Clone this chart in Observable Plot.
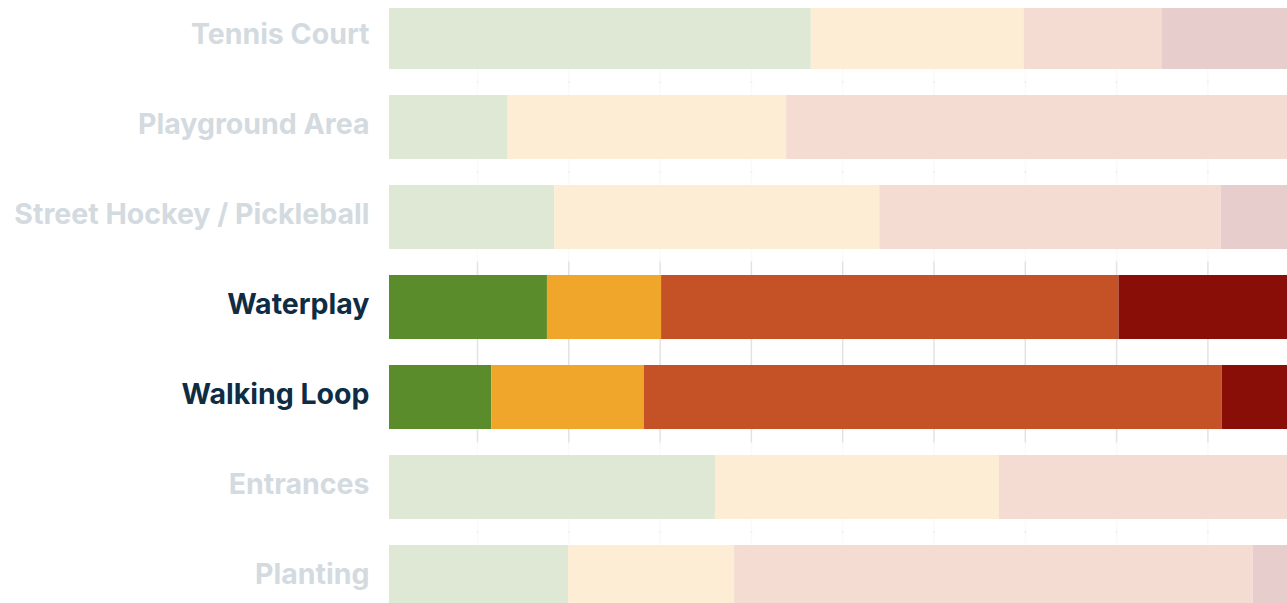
<!DOCTYPE html>
<html>
<head>
<meta charset="utf-8">
<script src="https://cdn.jsdelivr.net/npm/d3@7"></script>
<script src="https://cdn.jsdelivr.net/npm/@observablehq/plot@0.6"></script>
<style>
  html, body { margin: 0; padding: 0; background: white; overflow: hidden; }
  #chart svg { overflow: hidden; display: block; }
</style>
</head>
<body>
<div id="chart"></div>
<script>
const categories = ["Tennis Court", "Playground Area", "Street Hockey / Pickleball", "Waterplay", "Walking Loop", "Entrances", "Planting"];
const highlighted = ["Waterplay", "Walking Loop"];
const segments = ["Good", "Fair", "Poor", "Critical"];
const segmentColors = ["#5b8c2b", "#f0a62a", "#c55127", "#880e07"];
const good     = [46.2, 13.0, 18.1, 17.3, 11.2, 35.7, 19.6];
const fair     = [23.3, 30.5, 35.6, 12.5, 16.7, 31.1, 18.2];
const poor     = [15.1, 56.5, 37.4, 50.1, 63.3, 33.2, 56.8];
const critical = [15.4,  0.0,  8.9, 20.1,  8.8,  0.0,  5.4];
const gridTicks = [10, 20, 30, 40, 50, 60, 70, 80, 90, 100];

const series = [good, fair, poor, critical];
const rows = [];
categories.forEach((cat, i) => {
  segments.forEach((seg, j) => {
    rows.push({cat, seg, value: series[j][i], color: segmentColors[j]});
  });
});
const faded = categories.filter(c => !highlighted.includes(c));

const chart = Plot.plot({
  width: 1287,
  height: 603,
  marginTop: 8,
  marginBottom: 0,
  marginLeft: 389,
  marginRight: 0,
  x: {domain: [0, 100], range: [389, 1302], axis: null},
  y: {domain: categories, range: [2.6, 612.2], paddingInner: 0.284, paddingOuter: 0, axis: null},
  color: {type: "identity"},
  marks: [
    Plot.ruleX(gridTicks, {x: d => d, stroke: "#e3e3e3", strokeWidth: 1.5, dx: -3.3}),
    Plot.barX(rows, Plot.stackX({y: "cat", x: "value", z: "seg", fill: "color", clip: true})),
    Plot.barX(faded, {y: d => d, x1: 0, x2: 100, fill: "white", fillOpacity: 0.8, insetTop: -12.5, insetBottom: -12.5, clip: true}),
    Plot.axisY({
      tickSize: 0,
      tickPadding: 20,
      dy: -2.5,
      fontSize: 28.5,
      fontWeight: 700,
      fontFamily: "Inter",
      fill: d => highlighted.includes(d) ? "#0e2c44" : "#d3dae0",
      label: null
    })
  ]
});
document.getElementById("chart").appendChild(chart);
</script>
</body>
</html>
